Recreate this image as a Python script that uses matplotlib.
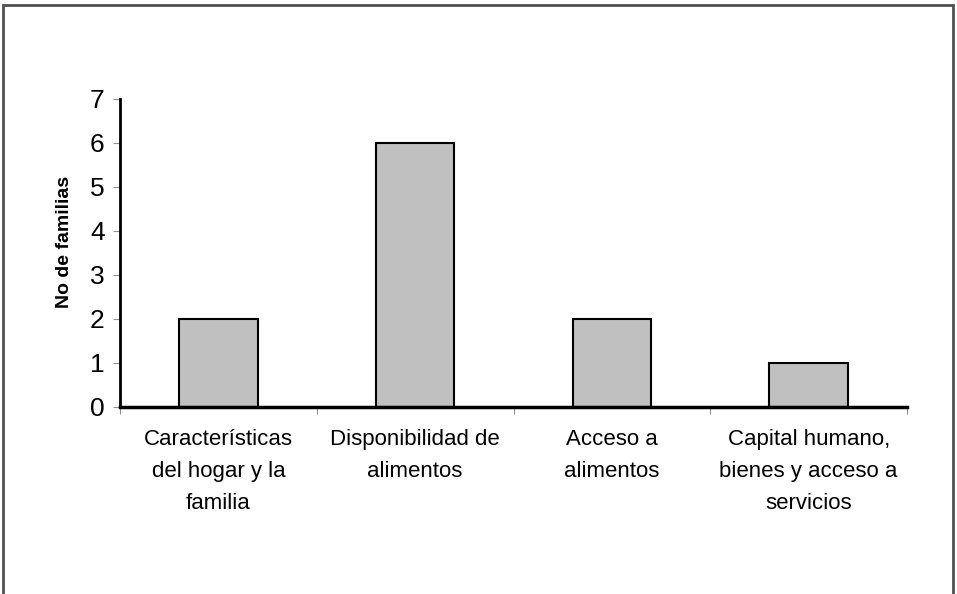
import matplotlib
matplotlib.use("Agg")
import matplotlib.pyplot as plt
from matplotlib.patches import Rectangle
import numpy as np

plt.rcParams['font.family'] = ['Liberation Sans', 'DejaVu Sans']

categorias = [
    "Características\ndel hogar y la\nfamilia",
    "Disponibilidad de\nalimentos",
    "Acceso a\nalimentos",
    "Capital humano,\nbienes y acceso a\nservicios",
]
familias = [2, 6, 2, 1]
y_ticks = [0, 1, 2, 3, 4, 5, 6, 7]

fig = plt.figure(figsize=(9.57, 5.94), dpi=100)
ax = fig.add_axes([120 / 957, 1 - 407 / 594, 787 / 957, 308 / 594])

# outer frame (runs off the bottom edge)
fig.patches.append(Rectangle((3 / 957, -0.05), 950 / 957, 1.05 - 5 / 594,
                             transform=fig.transFigure, fill=False,
                             edgecolor="#505050", linewidth=2))

x = np.arange(len(familias))
ax.bar(x, familias, width=0.4, color="#c0c0c0", edgecolor="black", linewidth=1.5)

ax.set_xlim(-0.5, len(familias) - 0.5)
ax.set_ylim(0, 7)
ax.set_yticks(y_ticks)
ax.tick_params(axis="y", labelsize=19, length=5, color="#909090", pad=6)

# category separators on the x axis, labels centred under the bars
ax.set_xticks(np.arange(len(familias) + 1) - 0.5)
ax.set_xticklabels([])
ax.tick_params(axis="x", length=5, color="#909090")
for xi, lab in zip(x, categorias):
    ax.text(xi, -0.51, lab, ha="center", va="top", fontsize=16,
            linespacing=1.66, transform=ax.transData)

for s in ["top", "right"]:
    ax.spines[s].set_visible(False)
ax.spines["left"].set_linewidth(2)
ax.spines["bottom"].set_linewidth(2.5)

ax.set_ylabel("No de familias", fontsize=14, fontweight="bold")
ax.yaxis.set_label_coords(-0.06, 0.536)

fig.savefig("out.png", dpi=100)
